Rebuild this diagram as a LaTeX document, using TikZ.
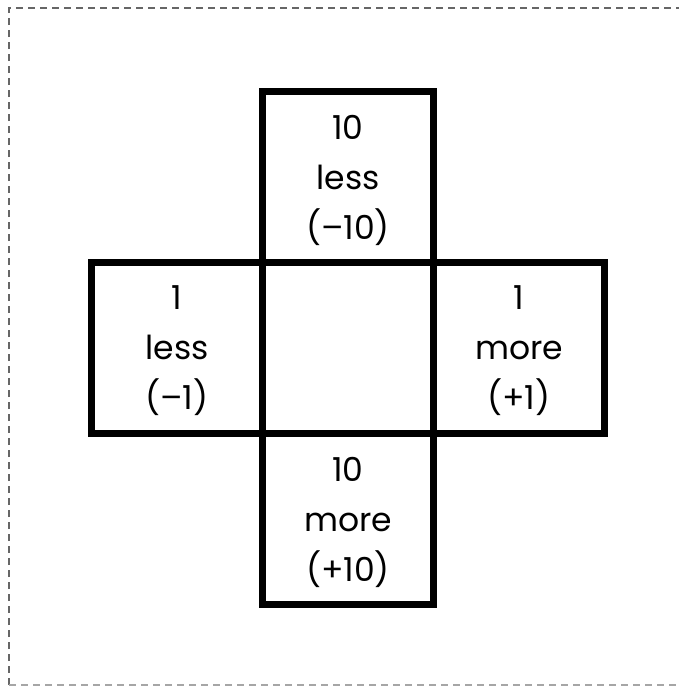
\documentclass[tikz,border=0pt]{standalone}
\usepackage{fontspec}
\setmainfont{Poppins}
\begin{document}
\begin{tikzpicture}[x=1pt,y=-1pt,
  cell/.style={draw=black, line width=6.5pt, minimum size=171pt, inner sep=0pt,
    outer sep=0pt, align=center, font=\fontsize{33}{50}\selectfont},
  caption/.style={align=center, inner sep=0pt, font=\fontsize{33}{50}\selectfont},
  frame/.style={draw=black!60, line width=2pt, dash pattern=on 7pt off 5pt}]
  \useasboundingbox (0,0) rectangle (679,686);
  % dashed outer frame (right side lies past the page edge)
  \draw[frame] (9,685) -- (9,8) -- (690,8);
  \draw[frame, draw=black!35] (9,685) -- (690,685);
  % cross of five squares sharing their edges
  \node[cell] (mid)   at (348,348) {};
  \node[cell, anchor=south] (up)    at (mid.north) {};
  \node[cell, anchor=north] (down)  at (mid.south) {};
  \node[cell, anchor=east]  (left)  at (mid.west) {};
  \node[cell, anchor=west]  (right) at (mid.east) {};
  % labels
  \node[caption] (upText)    at ([yshift=-3pt]up.center)    {10\\less\\(–10)};
  \node[caption] (leftText)  at ([yshift=-3pt]left.center)  {1\\less\\(–1)};
  \node[caption] (rightText) at ([yshift=-3pt]right.center) {1\\more\\(+1)};
  \node[caption] (downText)  at ([yshift=-3pt]down.center)  {10\\more\\(+10)};
\end{tikzpicture}
\end{document}
